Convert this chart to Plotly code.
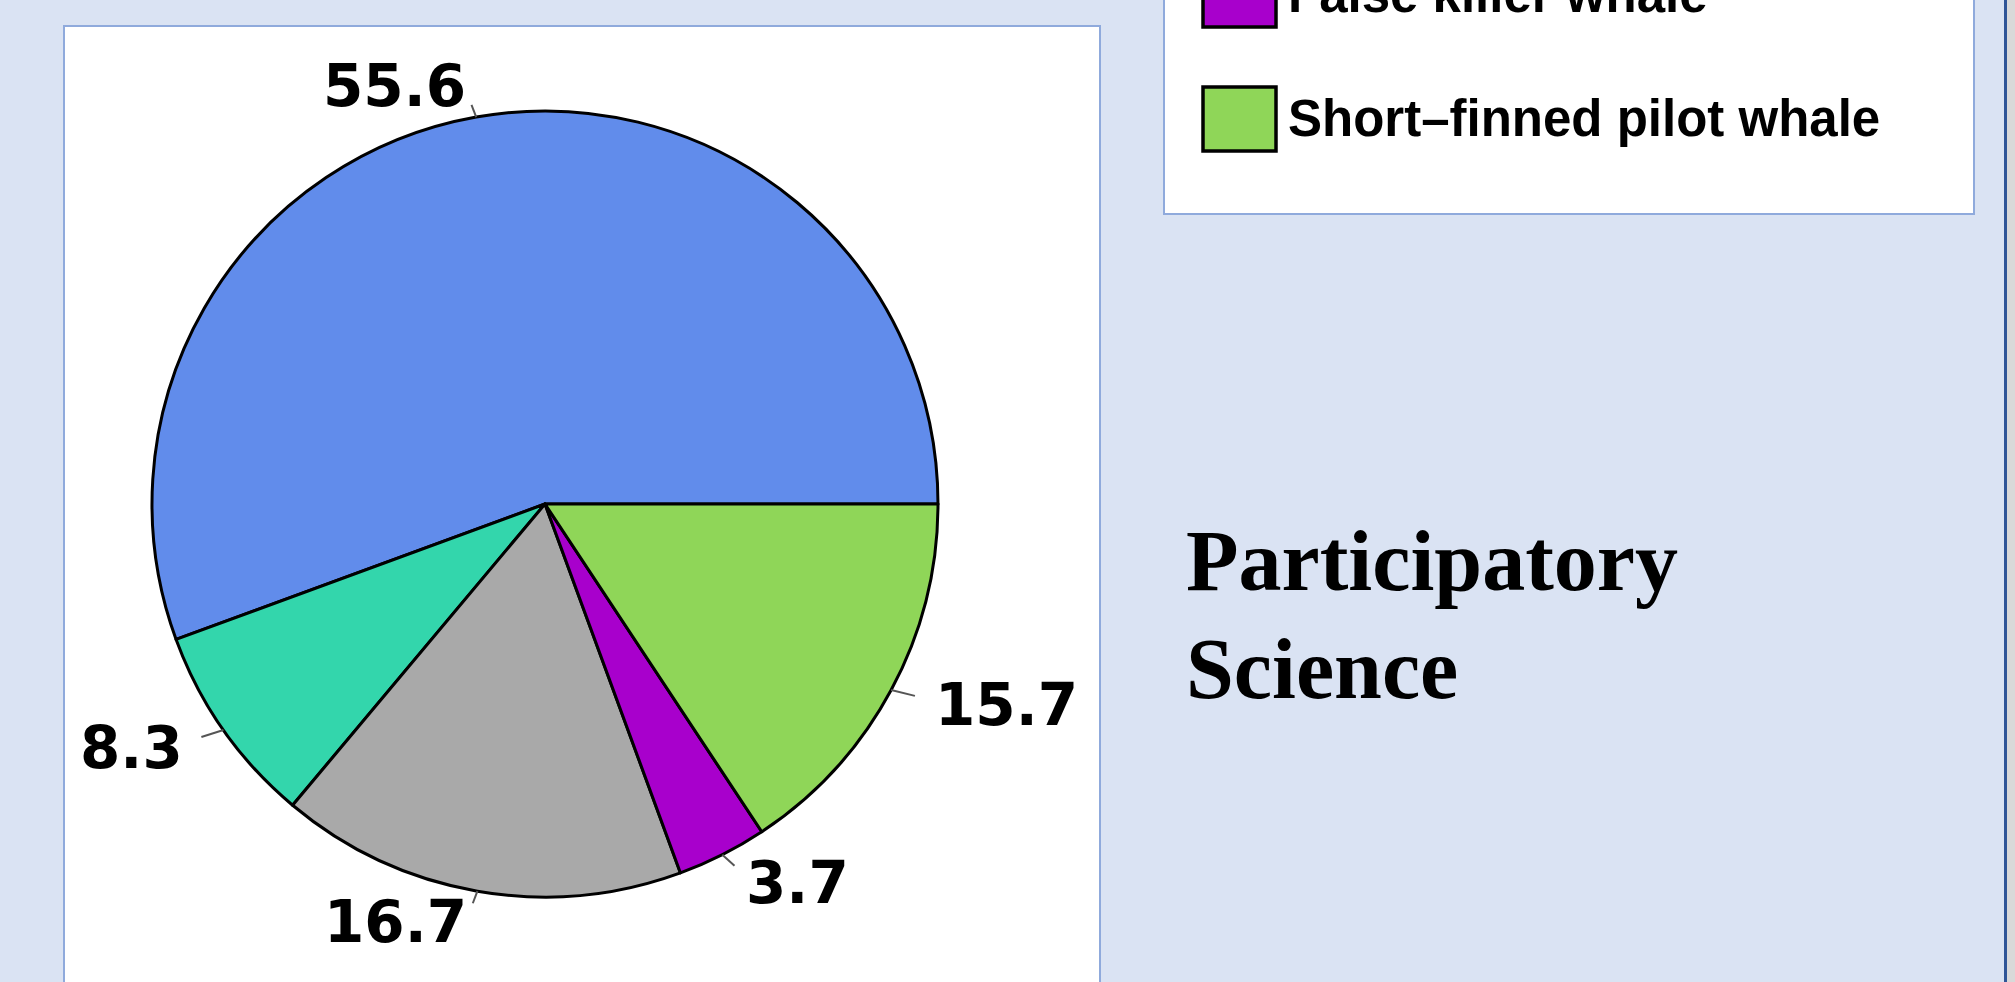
import math
import plotly.graph_objects as go

# ---- data -------------------------------------------------------------
percent_values = [55.6, 8.3, 16.7, 3.7, 15.7]
value_labels = ["55.6", "8.3", "16.7", "3.7", "15.7"]
slice_colors = ["#618CEB", "#33D6AC", "#A9A9A9", "#A800CC", "#8FD658"]
# only the last two legend entries are visible in the (cropped) slide
legend_names = ["False killer whale", "Short\u2013finned pilot whale"]
legend_slice_index = [3, 4]
title_lines = ["Participatory", "Science"]

# ---- geometry (pixels) ------------------------------------------------
W, H = 2015, 982
CX, CY = 545, 504          # pie centre
R = 393                    # pie radius
RX, RY = 400, 386          # label ellipse (R-style aspect)


def fx(x):
    return x / W


def fy(y):
    return 1 - y / H


total = sum(percent_values)
# first slice starts at 3 o'clock and runs counter-clockwise
start_rotation = 90 - 360 * percent_values[0] / total

fig = go.Figure()
fig.add_trace(go.Pie(
    values=percent_values,
    labels=value_labels,
    sort=False,
    direction="counterclockwise",
    rotation=start_rotation,
    textinfo="none",
    hoverinfo="skip",
    showlegend=False,
    marker=dict(colors=slice_colors, line=dict(color="black", width=3)),
    domain=dict(x=[fx(CX - R), fx(CX + R)], y=[fy(CY + R), fy(CY - R)]),
))

shapes = []
annotations = []

# white panel behind the pie
shapes.append(dict(type="rect", xref="paper", yref="paper", layer="below",
                   x0=fx(64), x1=fx(1100), y0=fy(1000), y1=fy(26),
                   fillcolor="white", line=dict(color="#8FAADC", width=2)))
# legend box (cropped at top)
shapes.append(dict(type="rect", xref="paper", yref="paper", layer="below",
                   x0=fx(1164), x1=fx(1974), y0=fy(214), y1=fy(-20),
                   fillcolor="white", line=dict(color="#8FAADC", width=2)))
# slide edge on the right
shapes.append(dict(type="rect", xref="paper", yref="paper", layer="below",
                   x0=fx(2004), x1=fx(2007), y0=0, y1=1,
                   fillcolor="#2F5597", line=dict(width=0)))
shapes.append(dict(type="rect", xref="paper", yref="paper", layer="below",
                   x0=fx(2007), x1=1, y0=0, y1=1,
                   fillcolor="#D9D9D9", line=dict(width=0)))

# value labels with short leader lines
cum = 0.0
for v, lab in zip(percent_values, value_labels):
    mid = (cum + v / 2) / total * 2 * math.pi
    cum += v
    c, s = math.cos(mid), math.sin(mid)
    shapes.append(dict(type="line", xref="paper", yref="paper",
                       x0=fx(CX + R * c), y0=fy(CY - R * s),
                       x1=fx(CX + 1.05 * RX * c), y1=fy(CY - 1.05 * RY * s),
                       line=dict(color="#555555", width=2)))
    annotations.append(dict(xref="paper", yref="paper",
                            x=fx(CX + 1.1 * RX * c), y=fy(CY - 1.1 * RY * s),
                            text="<b>" + lab + "</b>", showarrow=False,
                            xanchor="left" if c > 0 else "right", yanchor="middle",
                            font=dict(family="DejaVu Sans", size=58,
                                      color="black")))

# legend entries
LEG_TOP0 = 87 - 124      # top of first visible square
for k, (name, idx) in enumerate(zip(legend_names, legend_slice_index)):
    top = LEG_TOP0 + 124 * k
    shapes.append(dict(type="rect", xref="paper", yref="paper",
                       x0=fx(1203), x1=fx(1276), y0=fy(top + 64), y1=fy(top),
                       fillcolor=slice_colors[idx], line=dict(color="black", width=3.5)))
    annotations.append(dict(xref="paper", yref="paper",
                            x=fx(1286), y=fy(top + 32), text="<b>" + name + "</b>",
                            showarrow=False,
                            xanchor="left", yanchor="middle",
                            font=dict(family="Liberation Sans, Arial", size=51,
                                      color="black")))

# slide text
for i, line in enumerate(title_lines):
    annotations.append(dict(xref="paper", yref="paper",
                            x=fx(1184), y=fy(561 + 108 * i), text="<b>" + line + "</b>",
                            showarrow=False, xanchor="left", yanchor="middle",
                            font=dict(family="Liberation Serif, Times New Roman",
                                      size=86, color="black")))

fig.update_layout(
    width=W, height=H,
    margin=dict(l=0, r=0, t=0, b=0),
    paper_bgcolor="#DAE3F3",
    plot_bgcolor="rgba(0,0,0,0)",
    shapes=shapes,
    annotations=annotations,
    showlegend=False,
)

fig.write_html(
    "out.html",
    config={"displayModeBar": False},
    post_script="document.body.style.margin='0';"
                "document.body.style.background='#DAE3F3';"
                "document.body.style.overflow='hidden';",
)
